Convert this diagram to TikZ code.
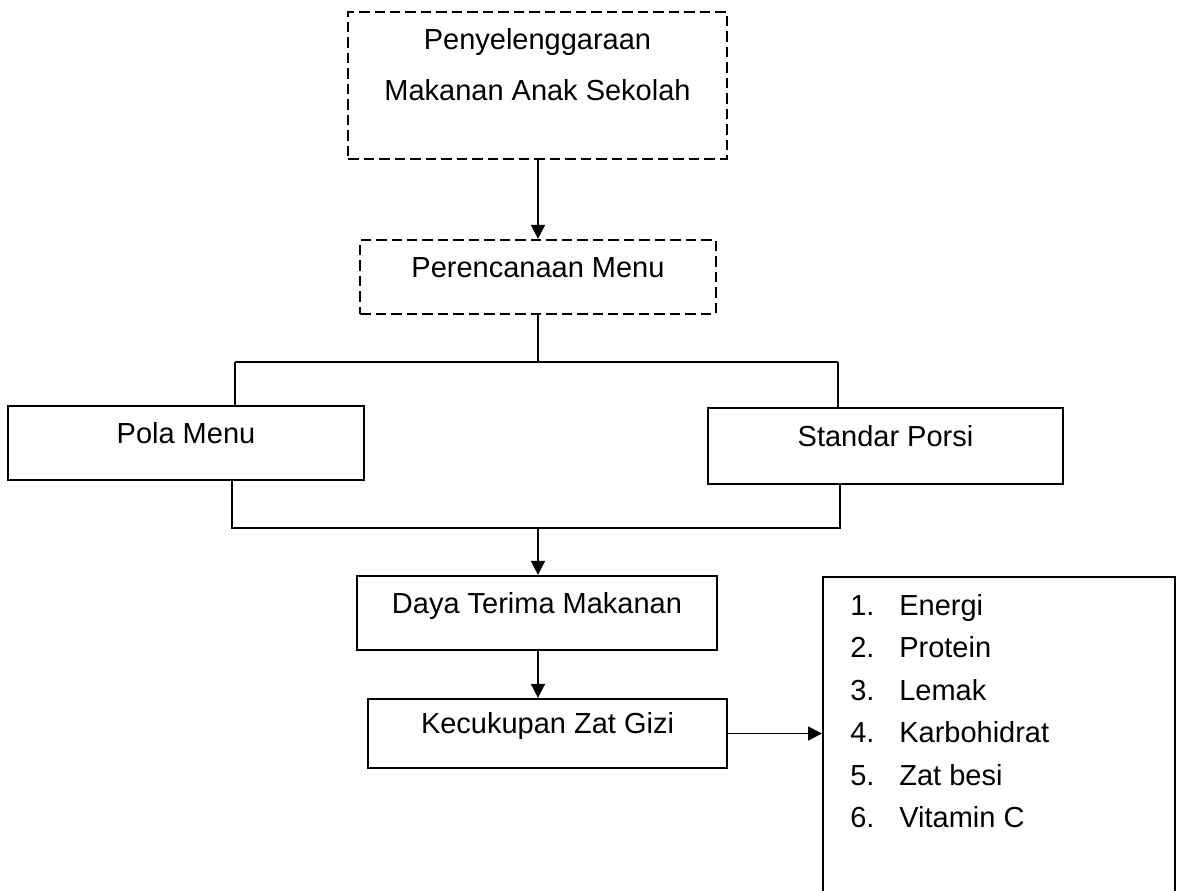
\documentclass[tikz,border=0pt]{standalone}
\usepackage{fontspec}
\setmainfont{Liberation Sans}
\usetikzlibrary{arrows.meta}
\begin{document}
\begin{tikzpicture}[
    x=0.02cm, y=-0.02cm,
    box/.style={draw, line width=1.3pt, inner sep=2pt, align=center, text height=0.5cm, text depth=0.5cm, font=\fontsize{16.5}{29}\selectfont},
    dashbox/.style={box, dash pattern=on 0.21cm off 0.1cm},
    line/.style={line width=1pt},
    arrow/.style={line, -{Triangle[length=0.28cm, width=0.28cm]}},
]
\useasboundingbox (0,0) rectangle (1181,890);
\clip (0,0) rectangle (1181,890);
\node[dashbox, minimum width=7.58cm, minimum height=2.94cm, text height=, text depth=0.84cm] (penyel) at (537.5,85.5) {Penyelenggaraan\\Makanan Anak Sekolah};
\node[dashbox, minimum width=7.12cm, minimum height=1.48cm] (rencana) at (538,277) {Perencanaan Menu};
\node[box, minimum width=7.12cm, minimum height=1.48cm] (pola) at (186,443) {Pola Menu};
\node[box, minimum width=7.1cm, minimum height=1.52cm] (porsi) at (885.5,446) {Standar Porsi};
\node[box, minimum width=7.2cm, minimum height=1.48cm] (daya) at (537,613) {Daya Terima Makanan};
\node[box, minimum width=7.18cm, minimum height=1.38cm] (cukup) at (547.5,733.5) {Kecukupan Zat Gizi};
\node[box, anchor=north west, minimum width=7.04cm, minimum height=6.6cm] (gizi) at (822,576) {};
\node[anchor=north west, inner sep=0pt, font=\fontsize{16.5}{24.2}\selectfont] (daftar) at (850,585) {%
    \begin{tabular}{@{}p{0.98cm}@{}l@{}}
    1. & Energi\\
    2. & Protein\\
    3. & Lemak\\
    4. & Karbohidrat\\
    5. & Zat besi\\
    6. & Vitamin C
    \end{tabular}};
% cabang ke pola menu dan standar porsi
\coordinate (pisah) at (538,362);
\coordinate (kiri) at (235,362);
\coordinate (kanan) at (838,362);
\coordinate (gabung) at (538,528);
\coordinate (kiribawah) at (232,528);
\coordinate (kananbawah) at (840,528);
\draw[arrow] (penyel.south -| rencana) -- (rencana.north);
\draw[line] (rencana.south -| pisah) -- (pisah);
\draw[line] (kiri) -- (kanan);
\draw[line] (kiri) -- (kiri |- pola.north);
\draw[line] (kanan) -- (kanan |- porsi.north);
\draw[line] (kiribawah |- pola.south) -- (kiribawah) -- (kananbawah) -- (kananbawah |- porsi.south);
\draw[arrow] (gabung) -- (gabung |- daya.north);
\draw[arrow] (daya.south -| gabung) -- (gabung |- cukup.north);
\draw[arrow] (cukup.east) -- (cukup.east -| gizi.west);
\end{tikzpicture}
\end{document}
